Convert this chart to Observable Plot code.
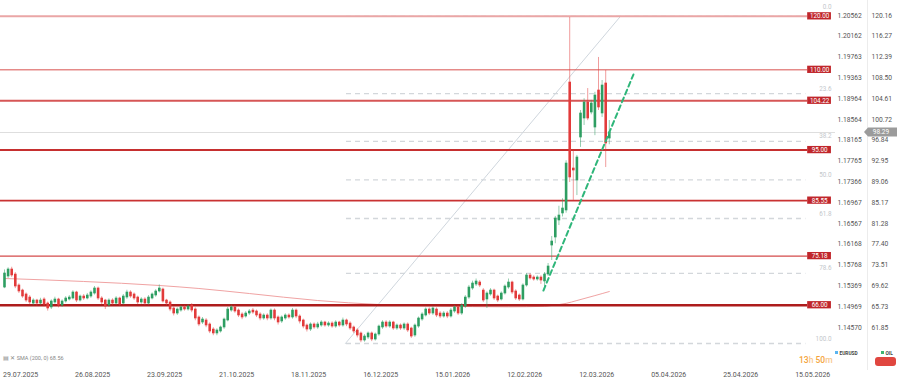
<!DOCTYPE html>
<html><head><meta charset="utf-8">
<script src="https://cdn.jsdelivr.net/npm/d3@7"></script>
<script src="https://cdn.jsdelivr.net/npm/@observablehq/plot@0.6"></script>
<style>
body{margin:0;background:#fff;font-family:Roboto,sans-serif;}
#chart{width:897px;height:386px;overflow:hidden}
</style></head><body><div id="chart"></div>
<script>
// ---- DATA (OIL daily candles, right-axis units) ----
const open = [
69.31,71.37,72.68,71.74,69.69,68.75,68.01,67.44,66.32,66.88,
66.32,67.07,66.32,65.58,66.51,67.07,65.95,66.70,67.07,67.26,
68.38,66.88,67.63,67.26,67.63,68.19,69.13,67.26,66.88,65.95,
66.88,66.32,67.26,66.32,67.44,68.38,68.01,67.44,66.51,67.07,
66.32,67.26,67.82,68.57,68.94,66.88,66.51,65.39,64.45,65.01,
65.58,65.20,65.95,65.20,63.71,62.77,63.15,62.40,61.46,60.72,
61.09,61.84,63.15,65.01,65.58,65.01,64.27,63.89,64.45,65.01,
64.83,64.27,63.52,64.08,63.52,65.01,63.71,62.96,63.52,64.08,
63.71,65.01,63.89,63.15,62.21,61.46,62.40,61.84,62.21,62.77,
62.21,62.58,62.02,62.77,62.21,63.15,62.58,61.84,61.28,60.72,
59.41,59.97,60.72,59.59,60.53,61.84,62.77,62.02,62.77,61.65,
62.21,61.65,62.40,61.65,60.34,62.02,63.33,64.08,65.20,64.45,
65.20,64.45,63.89,64.45,63.89,64.83,65.58,64.45,65.76,67.44,
69.13,69.87,70.25,68.75,67.07,68.01,68.75,67.63,67.07,68.19,
69.31,70.25,68.57,67.82,67.07,69.69,71.56,71.18,70.81,71.18,
70.44,71.74,77.16,78.66,81.84,83.15,83.71,107.63,91.56,89.31,
97.35,100.90,103.89,102.02,99.22,106.14,101.84,107.45,97.16];
const close = [
71.93,72.68,71.56,69.50,68.57,67.63,66.88,66.51,66.88,66.32,
66.88,66.14,65.39,66.70,67.07,65.95,66.70,67.26,67.44,68.38,
66.88,67.63,67.26,67.82,68.38,69.13,67.26,66.51,65.76,66.88,
66.32,67.26,66.14,67.63,68.38,67.63,67.26,66.51,67.07,66.32,
67.44,68.01,68.57,69.13,66.70,66.32,65.20,64.45,65.20,65.58,
65.20,65.76,65.01,63.52,62.40,63.33,62.21,61.09,60.72,61.28,
61.84,63.33,65.20,65.58,64.83,64.08,63.71,64.45,64.83,64.64,
64.08,63.52,64.08,63.52,65.01,63.52,62.77,63.71,64.08,63.71,
65.01,63.89,62.96,62.02,61.46,62.40,61.84,62.40,62.77,62.21,
62.58,62.02,62.77,62.21,63.15,62.40,61.65,61.09,60.34,59.41,
60.15,60.72,59.59,60.53,62.02,62.77,62.02,62.77,61.65,62.21,
61.65,62.40,61.28,60.15,62.21,63.52,64.27,65.20,64.45,65.39,
64.08,63.89,64.45,63.89,65.01,65.58,64.45,65.95,67.44,69.31,
70.06,70.44,69.69,66.88,68.19,68.75,67.26,66.88,68.19,69.50,
70.25,68.38,67.26,67.07,69.69,71.56,71.00,70.81,71.18,70.62,
71.74,73.24,77.91,82.21,82.77,84.08,92.49,89.88,91.18,93.61,
101.84,103.89,100.90,103.71,105.20,102.96,107.07,96.23,98.29];
const high = [
72.6,73.0,73.1,72.1,70.0,69.0,68.3,67.8,67.2,67.1,
67.3,67.4,66.6,67.0,67.5,67.3,67.0,67.6,67.8,68.7,
68.6,67.9,68.0,68.2,68.7,69.5,69.4,67.6,67.1,67.2,
67.2,67.6,67.5,68.0,68.8,68.7,68.3,67.7,67.4,67.4,
67.8,68.3,68.9,69.8,69.2,67.1,66.8,65.7,65.5,65.9,
65.9,66.1,66.3,65.5,64.0,63.7,63.5,62.7,61.8,61.6,
62.1,63.6,65.6,66.0,65.9,65.3,64.6,64.8,65.2,65.4,
65.1,64.6,64.4,64.4,65.3,65.3,64.0,64.0,64.4,64.4,
65.4,65.3,64.2,63.4,62.5,62.7,62.7,62.8,63.1,63.0,
62.9,62.9,63.1,63.0,63.6,63.4,62.9,62.1,61.6,61.0,
60.5,61.0,61.0,60.8,62.3,63.1,63.1,63.1,63.0,62.5,
62.5,62.7,62.7,61.9,62.5,63.8,64.6,65.5,65.5,65.7,
65.5,64.8,64.8,64.8,65.4,65.9,65.9,66.3,67.8,69.7,
70.5,70.9,70.6,69.1,68.5,69.1,69.0,67.9,68.5,69.8,
70.9,70.5,68.9,68.1,70.0,71.9,71.9,71.5,71.5,71.5,
72.1,73.8,78.85,82.6,84.5,85.9,93.0,119.78,94.9,94.0,
102.4,104.6,106.5,104.3,105.8,112.31,108.0,109.88,100.53];
const low = [
69.1,71.0,71.2,69.1,68.2,67.3,66.5,66.1,65.9,65.8,
66.0,65.7,64.9,65.2,66.2,65.5,65.6,66.4,66.8,67.0,
66.5,66.6,66.9,67.0,67.3,67.9,66.9,66.1,65.2,65.6,
66.0,66.0,65.8,66.0,67.1,67.3,66.9,66.1,66.2,65.9,
66.0,67.0,67.5,68.3,66.4,65.9,64.8,64.0,64.1,64.7,
64.9,64.9,64.6,63.1,62.0,62.4,61.8,60.7,60.3,60.3,
60.8,61.5,62.9,64.7,64.5,63.7,63.3,63.6,64.1,64.3,
63.7,63.1,63.2,63.1,63.2,63.1,62.3,62.6,63.2,63.4,
63.4,63.5,62.5,61.6,61.0,61.1,61.5,61.5,61.9,61.9,
61.9,61.7,61.7,61.9,61.9,62.0,61.3,60.7,59.9,59.0,
59.1,59.6,59.2,59.3,60.2,61.5,61.7,61.7,61.3,61.3,
61.3,61.3,60.9,59.8,60.0,61.7,63.0,63.8,64.1,64.1,
63.7,63.5,63.6,63.5,63.6,64.5,64.1,64.1,65.4,67.1,
68.8,69.5,69.3,66.5,65.4,67.7,66.9,66.5,66.8,67.9,
69.0,68.0,66.9,66.7,66.8,69.4,70.7,70.5,70.5,69.9,
69.3,71.4,74.36,77.5,80.9,82.5,83.2,88.94,85.6,86.5,
95.5,99.6,100.5,101.6,97.7,102.4,101.1,91.74,96.0];

const smaIndex = [0,22,43,54,68,87,104,120,140,150,152,156,159,164,168];
const smaValue = [71.00,70.44,69.69,69.13,68.19,66.88,66.14,65.85,65.70,65.80,65.95,66.35,66.88,67.80,68.56];
const smaLast = "68.56";

const levelValues = [120.00,110.00,104.22,95.00,85.55,75.18,66.00];
const levelLabels = ["120.00","110.00","104.22","95.00","85.55","75.18","66.00"];

const fibLabels = ["0.0","23.6","38.2","50.0","61.8","78.6","100.0"];
const fibValues = [120.00,105.57,96.64,89.42,82.21,71.94,58.85];
const fibStartIndex = 95, fibEndIndex = 222.6;

const fibLineIndex = [94.7,171.1];
const fibLineValue = [58.85,120.00];
const trendIndex = [149.7,174.7];
const trendValue = [68.75,109.12];

const oilTicks = [120.16,116.27,112.39,108.50,104.61,100.72,96.84,92.95,89.06,85.17,81.28,77.40,73.51,69.62,65.73,61.85];
const eurTicks = ["1.20562","1.20162","1.19763","1.19363","1.18964","1.18564","1.18165","1.17765","1.17366","1.16967","1.16567","1.16168","1.15768","1.15369","1.14969","1.14570"];

const dateTickIndex = [4.5,24.5,44.5,64.5,84.5,104.5,124.5,144.5,164.5,184.5,204.5,224.5];
const dateLabels = ["29.07.2025","26.08.2025","23.09.2025","21.10.2025","18.11.2025","16.12.2025","15.01.2026","12.02.2026","12.03.2026","05.04.2026","25.04.2026","15.05.2026"];

const lastPrice = 98.29;

// ---- STYLES ----
const levelColors = ["#eaa6a6","#d8514e","#d65656","#c62f2f","#c93232","#d44b4b","#ad1c1c"];
const levelWidths = [2,1,1.8,2,1.6,1.1,2.6];
const UP = "#2e9e62", DOWN = "#e23b3b";

// ---- BUILD ----
const candles = open.map((o,i)=>({i, open:o, close:close[i], high:high[i], low:low[i], up: close[i] >= o}));
const levels = levelValues.map((v,i)=>({v, label:levelLabels[i], c:levelColors[i], w:levelWidths[i]}));
const fibs = fibValues.map((v,i)=>({v, label:fibLabels[i], dy: i === 0 ? -8 : -5}));
const sma = smaIndex.map((d,i)=>({i:d, v:smaValue[i]}));
const fibLine = fibLineIndex.map((d,i)=>({i:d, v:fibLineValue[i]}));
const trend = trendIndex.map((d,i)=>({i:d, v:trendValue[i]}));

const xMin = -1.11, xMax = 230.83, yMin = 57.54, yMax = 122.96;
const boxI1 = 223.1, boxI2 = 229.7, boxH = 0.68;

const plot = Plot.plot({
  width: 897, height: 386,
  marginTop: 0, marginBottom: 36, marginLeft: 0, marginRight: 62,
  x: {domain: [xMin, xMax], axis: null},
  y: {domain: [yMin, yMax], axis: null},
  style: {fontFamily: "Roboto, sans-serif", background: "#fff", overflow: "visible"},
  marks: [
    Plot.ruleY([lastPrice], {x1: xMin, x2: xMax, stroke: "#dedede", strokeWidth: 1}),
    Plot.ruleY(fibs, {y: "v", x1: fibStartIndex, x2: fibEndIndex, stroke: "#d3d7db", strokeWidth: 1.3, strokeDasharray: "5,4"}),
    Plot.line(fibLine, {x: "i", y: "v", stroke: "#cfd6dd", strokeWidth: 1}),
    Plot.line(sma, {x: "i", y: "v", curve: "monotone-x", stroke: "#f0a3a3", strokeWidth: 1}),
    Plot.ruleY(levels, {y: "v", x1: xMin, x2: boxI1, stroke: "c", strokeWidth: "w"}),
    Plot.ruleX(candles, {x: "i", y1: "low", y2: "high", stroke: d => d.up ? UP : DOWN, strokeOpacity: 0.5, strokeWidth: 1}),
    Plot.ruleX(candles, {x: "i", y1: d => Math.min(d.open, d.close) - 0.06, y2: d => Math.max(d.open, d.close) + 0.06, stroke: d => d.up ? UP : DOWN, strokeWidth: 2.6}),
    Plot.line(trend, {x: "i", y: "v", stroke: "#2fb67a", strokeWidth: 2, strokeDasharray: "5,3.5"}),
    Plot.rect(levels, {x1: boxI1, x2: boxI2, y1: d => d.v - boxH, y2: d => d.v + boxH, fill: "#c0262b"}),
    Plot.text(levels, {x: (boxI1 + boxI2) / 2, y: "v", text: "label", fill: "#fff", fontSize: 6.3}),
    Plot.text(fibs.slice(1), {x: boxI2, y: "v", text: "label", textAnchor: "end", dy: -5, fontSize: 6.3, fill: "#c3c7cb"}),
    Plot.text(fibs.slice(0, 1), {x: boxI2, y: "v", text: "label", textAnchor: "end", dy: -9, fontSize: 6.3, fill: "#c3c7cb"}),
    Plot.axisY(oilTicks, {anchor: "right", tickSize: 0, tickPadding: 2, label: null, fontSize: 6.7, fill: "#555",
      tickFormat: d => eurTicks[oilTicks.indexOf(d)]}),
    Plot.axisY(oilTicks, {anchor: "right", tickSize: 0, tickPadding: 36, label: null, fontSize: 6.7, fill: "#555",
      tickFormat: d => d.toFixed(2)}),
    Plot.axisX(dateTickIndex, {anchor: "bottom", tickSize: 0, tickPadding: 22, label: null, fontSize: 7, fill: "#555",
      tickFormat: d => dateLabels[dateTickIndex.indexOf(d)]})
  ]
});

const svg = d3.select(plot);
const ys = plot.scale("y");
// axis separator
svg.append("line").attr("x1", 867.5).attr("x2", 867.5).attr("y1", 0).attr("y2", 370).attr("stroke", "#ececec");
// last price tag
const py = ys.apply(lastPrice);
svg.append("path").attr("d", `M864,${py} L868,${py-4.5} L897,${py-4.5} L897,${py+4.5} L868,${py+4.5} Z`).attr("fill", "#9b9b9b");
svg.append("text").attr("x", 881).attr("y", py).attr("dy", "0.35em").attr("text-anchor", "middle")
  .attr("font-size", 6.5).attr("fill", "#fff").text(lastPrice.toFixed(2));
// SMA label
const sm = svg.append("text").attr("x", 3).attr("y", 360).attr("text-anchor", "start").attr("font-size", 5.5).attr("fill", "#888");
sm.append("tspan").text("▤ ✕ ");
sm.append("tspan").text(`SMA (200, 0) ${smaLast}`);
// timer
const t = svg.append("text").attr("x", 799).attr("y", 363).attr("text-anchor", "start").attr("font-size", 8.5).attr("font-weight", 500);
t.append("tspan").attr("fill", "#f5a33a").text("13");
t.append("tspan").attr("fill", "#f8c98e").text("h ");
t.append("tspan").attr("fill", "#f5a33a").text("50");
t.append("tspan").attr("fill", "#f8c98e").text("m");
// legend
svg.append("rect").attr("x", 835).attr("y", 351).attr("width", 3).attr("height", 3).attr("fill", "#5ab4ef");
svg.append("text").attr("x", 839.5).attr("y", 354.5).attr("text-anchor", "start").attr("font-size", 4.8).attr("font-weight", 700).attr("fill", "#444").text("EURUSD");
svg.append("rect").attr("x", 881).attr("y", 351).attr("width", 3).attr("height", 3).attr("fill", "#3cb371");
svg.append("text").attr("x", 885.5).attr("y", 354.5).attr("text-anchor", "start").attr("font-size", 4.8).attr("font-weight", 700).attr("fill", "#444").text("OIL");
svg.append("rect").attr("x", 875).attr("y", 357).attr("width", 21).attr("height", 9).attr("rx", 3).attr("fill", "#e0463f");

document.getElementById("chart").append(plot);
</script></body></html>
